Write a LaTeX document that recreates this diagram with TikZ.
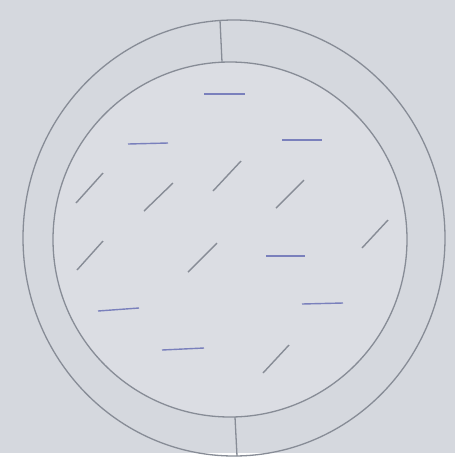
\documentclass[tikz,border=0pt]{standalone}
\usepackage{tikz}

\definecolor{paper}{RGB}{213,216,222}
\definecolor{paperlight}{RGB}{219,221,227}
\definecolor{pencil}{RGB}{135,140,150}
\definecolor{inkblue}{RGB}{122,128,188}

\begin{document}
\begin{tikzpicture}[
    x=1pt, y=-1pt,
    ring/.style={draw=pencil, line width=1.3pt},
    slant/.style={draw=pencil, line width=1.4pt},
    flat/.style={draw=inkblue, line width=1.4pt}
]

% ===== Background (photo of paper) =====
\fill[paper] (0,0) rectangle (460,459);
\fill[white] (455,0) rectangle (460,459);
\fill[white] (0,453) rectangle (460,459);
\useasboundingbox (0,0) rectangle (460,459);

% --- Outer and inner circles ---
\draw[ring] (234,238) ellipse (211 and 218);
\draw[ring, fill=paperlight] (230,239.5) ellipse (177 and 177.5);

% --- Dividers between the two circles ---
\draw[ring] (220,20) -- (222,62);
\draw[ring] (235,417) -- (237,456);

% --- Horizontal strokes ---
\draw[flat] (204,94) -- (245,94);
\draw[flat] (128,144) -- (168,143);
\draw[flat] (282,140) -- (322,140);
\draw[flat] (266,256) -- (305,256);
\draw[flat] (98,311) -- (139,308);
\draw[flat] (302,304) -- (343,303);
\draw[flat] (162,350) -- (204,348);

% --- Slanted strokes ---
\draw[slant] (76,203) -- (103,173);
\draw[slant] (144,211) -- (173,183);
\draw[slant] (213,191) -- (241,161);
\draw[slant] (276,208) -- (304,180);
\draw[slant] (362,248) -- (388,220);
\draw[slant] (77,270) -- (103,241);
\draw[slant] (188,272) -- (217,243);
\draw[slant] (263,373) -- (289,345);

\end{tikzpicture}
\end{document}
